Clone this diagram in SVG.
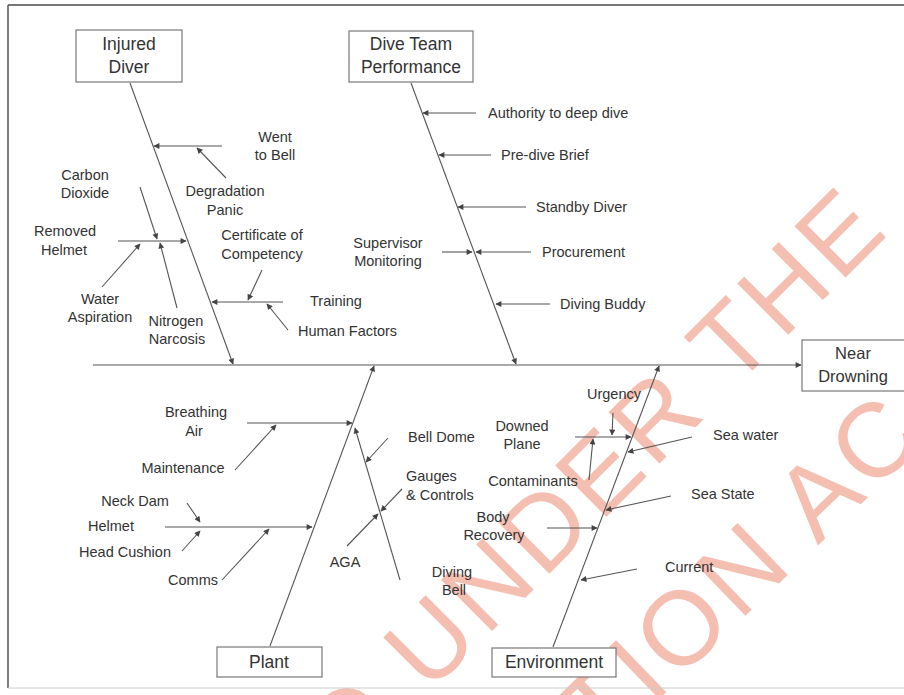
<svg xmlns="http://www.w3.org/2000/svg" width="904" height="695" viewBox="0 0 904 695">
<defs>
<style>
.t{font-family:"Liberation Sans",Arial,sans-serif;font-size:14.5px;fill:#333}
.m{text-anchor:middle}
.b{font-family:"Liberation Sans",Arial,sans-serif;font-size:17.5px;fill:#333;text-anchor:middle}
.box{fill:#fff;stroke:#777;stroke-width:1.2}
.ln{stroke:#555;stroke-width:1.1;fill:none}
.ar{stroke:#555;stroke-width:1.1;fill:none;marker-end:url(#ah)}
.wm{font-family:"Liberation Sans",Arial,sans-serif;font-size:105px;fill:#f1ae9d;fill-opacity:0.8;text-anchor:middle;letter-spacing:5px}
</style>
<marker id="ah" viewBox="0 0 10 10" refX="9" refY="5" markerWidth="8" markerHeight="6" markerUnits="userSpaceOnUse" orient="auto"><path d="M0,0 L10,5 L0,10 z" fill="#444"/></marker>
</defs>
<rect width="904" height="695" fill="#fff"/>
<g id="watermark">
<text class="wm" transform="translate(620,503) rotate(-45)">D UNDER THE</text>
<text class="wm" transform="translate(742,619) rotate(-44)">ATION AC</text>
</g>
<g id="frame" fill="none">
<line x1="8" y1="5" x2="904" y2="5" stroke="#777" stroke-width="2"/>
<line x1="8" y1="5" x2="8" y2="688" stroke="#555" stroke-width="1.5"/>
<line x1="8" y1="688" x2="904" y2="688" stroke="#ccc" stroke-width="1"/>
</g>
<g id="connectors">
<line class="ar" x1="93" y1="365" x2="801" y2="365"/>
<line class="ar" x1="130" y1="83" x2="233" y2="364"/>
<line class="ar" x1="222" y1="146" x2="154" y2="146"/>
<line class="ar" x1="226" y1="178" x2="197" y2="148"/>
<line class="ar" x1="118" y1="241" x2="186" y2="241"/>
<line class="ar" x1="140" y1="187" x2="157" y2="239"/>
<line class="ar" x1="102" y1="287" x2="140" y2="244"/>
<line class="ar" x1="177" y1="308" x2="160" y2="243"/>
<line class="ar" x1="283" y1="302" x2="212" y2="302"/>
<line class="ar" x1="262" y1="270" x2="248" y2="300"/>
<line class="ar" x1="288" y1="330" x2="267" y2="304"/>
<line class="ar" x1="411" y1="83" x2="516" y2="364"/>
<line class="ar" x1="476" y1="113" x2="423" y2="113"/>
<line class="ar" x1="491" y1="155" x2="439" y2="155"/>
<line class="ar" x1="526" y1="207" x2="458" y2="207"/>
<line class="ar" x1="531" y1="252" x2="476" y2="252"/>
<line class="ar" x1="442" y1="252" x2="472" y2="252"/>
<line class="ar" x1="550" y1="304" x2="496" y2="304"/>
<line class="ar" x1="270" y1="646" x2="374" y2="366"/>
<line class="ar" x1="247" y1="423" x2="352" y2="423"/>
<line class="ar" x1="235" y1="470" x2="276" y2="425"/>
<line class="ar" x1="165" y1="527" x2="312" y2="527"/>
<line class="ar" x1="187" y1="503" x2="200" y2="522"/>
<line class="ar" x1="182" y1="551" x2="200" y2="531"/>
<line class="ar" x1="222" y1="580" x2="269" y2="529"/>
<line class="ar" x1="400" y1="580" x2="355" y2="428"/>
<line class="ar" x1="388" y1="438" x2="366" y2="462"/>
<line class="ar" x1="402" y1="489" x2="381" y2="511"/>
<line class="ar" x1="347" y1="546" x2="378" y2="514"/>
<line class="ar" x1="553" y1="647" x2="659" y2="366"/>
<line class="ar" x1="575" y1="437" x2="631" y2="437"/>
<line class="ar" x1="613" y1="413" x2="612" y2="435"/>
<line class="ar" x1="589" y1="480" x2="593" y2="439"/>
<line class="ar" x1="692" y1="437" x2="628" y2="452"/>
<line class="ar" x1="671" y1="496" x2="606" y2="510"/>
<line class="ar" x1="547" y1="528" x2="597" y2="528"/>
<line class="ar" x1="637" y1="569" x2="581" y2="580"/>
</g>
<g id="injured-diver"><rect class="box" x="76" y="30" width="106" height="52"/><text class="b" x="129" y="50">Injured</text><text class="b" x="129" y="73">Diver</text></g>
<g id="dive-team"><rect class="box" x="349" y="31" width="124" height="51"/><text class="b" x="411" y="50">Dive Team</text><text class="b" x="411" y="73">Performance</text></g>
<g id="near-drowning"><rect class="box" x="802" y="340" width="110" height="51"/><text class="b" x="853" y="359" style="font-size:16.5px">Near</text><text class="b" x="853" y="382" style="font-size:16.5px">Drowning</text></g>
<g id="plant"><rect class="box" x="217" y="647" width="105" height="30"/><text class="b" x="269" y="668">Plant</text></g>
<g id="environment"><rect class="box" x="492" y="648" width="124" height="29"/><text class="b" x="554" y="668">Environment</text></g>
<g id="went-to-bell"><text class="t m" x="275" y="142">Went</text><text class="t m" x="275" y="160">to Bell</text></g>
<g id="degradation-panic"><text class="t m" x="225" y="196">Degradation</text><text class="t m" x="225" y="215">Panic</text></g>
<g id="carbon-dioxide"><text class="t m" x="85" y="180">Carbon</text><text class="t m" x="85" y="198">Dioxide</text></g>
<g id="removed-helmet"><text class="t m" x="65" y="236">Removed</text><text class="t m" x="64" y="255">Helmet</text></g>
<g id="certificate"><text class="t m" x="262" y="240">Certificate of</text><text class="t m" x="262" y="259">Competency</text></g>
<g id="water-aspiration"><text class="t m" x="100" y="304">Water</text><text class="t m" x="100" y="322">Aspiration</text></g>
<g id="nitrogen-narcosis"><text class="t m" x="176" y="326">Nitrogen</text><text class="t m" x="177" y="344">Narcosis</text></g>
<g id="training"><text class="t" x="310" y="306">Training</text></g>
<g id="human-factors"><text class="t" x="298" y="336">Human Factors</text></g>
<g id="authority"><text class="t" x="488" y="118">Authority to deep dive</text></g>
<g id="pre-dive"><text class="t" x="501" y="160">Pre-dive Brief</text></g>
<g id="standby"><text class="t" x="536" y="212">Standby Diver</text></g>
<g id="procurement"><text class="t" x="542" y="257">Procurement</text></g>
<g id="supervisor"><text class="t m" x="388" y="248">Supervisor</text><text class="t m" x="388" y="266">Monitoring</text></g>
<g id="diving-buddy"><text class="t" x="560" y="309">Diving Buddy</text></g>
<g id="breathing-air"><text class="t m" x="196" y="417">Breathing</text><text class="t m" x="194" y="436">Air</text></g>
<g id="maintenance"><text class="t m" x="183" y="473">Maintenance</text></g>
<g id="neck-dam"><text class="t m" x="135" y="506">Neck Dam</text></g>
<g id="helmet"><text class="t m" x="111" y="531">Helmet</text></g>
<g id="head-cushion"><text class="t m" x="125" y="557">Head Cushion</text></g>
<g id="comms"><text class="t m" x="193" y="585">Comms</text></g>
<g id="bell-dome"><text class="t" x="408" y="442">Bell Dome</text></g>
<g id="gauges"><text class="t" x="406" y="481">Gauges</text><text class="t" x="406" y="500">&amp; Controls</text></g>
<g id="aga"><text class="t m" x="345" y="567">AGA</text></g>
<g id="diving-bell"><text class="t m" x="452" y="577">Diving</text><text class="t m" x="454" y="595">Bell</text></g>
<g id="urgency"><text class="t m" x="614" y="399">Urgency</text></g>
<g id="downed-plane"><text class="t m" x="522" y="431">Downed</text><text class="t m" x="522" y="449">Plane</text></g>
<g id="contaminants"><text class="t m" x="533" y="486">Contaminants</text></g>
<g id="sea-water"><text class="t" x="713" y="440">Sea water</text></g>
<g id="sea-state"><text class="t" x="691" y="499">Sea State</text></g>
<g id="body-recovery"><text class="t m" x="493" y="522">Body</text><text class="t m" x="494" y="540">Recovery</text></g>
<g id="current"><text class="t" x="665" y="572">Current</text></g>
</svg>
